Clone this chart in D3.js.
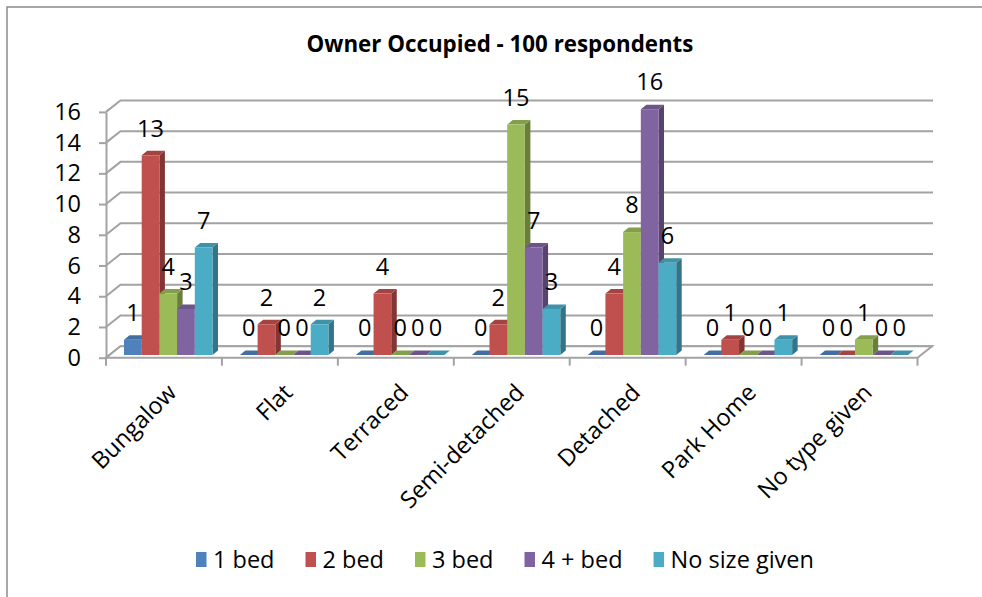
<!DOCTYPE html>
<html>
<head>
<meta charset="utf-8">
<script src="https://cdn.jsdelivr.net/npm/d3@7"></script>
<style>
  html, body { margin: 0; padding: 0; background: #fff; }
  svg { display: block; font-family: "Open Sans", "Liberation Sans", sans-serif; }
</style>
</head>
<body>
<svg id="chart" width="982" height="597"></svg>
<script>
// ---- data ----
const title = "Owner Occupied - 100 respondents";
const categories = ["Bungalow", "Flat", "Terraced", "Semi-detached", "Detached", "Park Home", "No type given"];
const seriesNames = ["1 bed", "2 bed", "3 bed", "4 + bed", "No size given"];
const bed1 = [1, 0, 0, 0, 0, 0, 0];
const bed2 = [13, 2, 4, 2, 4, 1, 0];
const bed3 = [4, 0, 0, 15, 8, 0, 1];
const bed4 = [3, 0, 0, 7, 16, 0, 0];
const noSize = [7, 2, 0, 3, 6, 1, 0];
const yTicks = [0, 2, 4, 6, 8, 10, 12, 14, 16];
const colors = ["#4F81BD", "#C0504D", "#9BBB59", "#8064A2", "#4BACC6"];

const seriesValues = [bed1, bed2, bed3, bed4, noSize];

// ---- layout ----
const svg = d3.select("#chart");
const FONT = 23.5;
const plotLeft = 106, plotRight = 917.5;
const yFront0 = 357.7;
const depthDX = 14.5, depthDY = -11.5;
const barBase = 355;
const barDX = 5.5, barDY = -4.5;
const gridColor = "#a3a3a3";

const yScale = d3.scaleLinear().domain([0, 16]).range([0, 245.8]);
const xBand = d3.scaleBand().domain(categories).range([plotLeft, plotRight]).padding(0);
const sBand = d3.scaleBand().domain(seriesNames).range([18, 18 + 88.5]).padding(0);

// outer border (right and bottom edges fall outside the view)
svg.append("rect").attr("x", 7).attr("y", 7).attr("width", 1000).attr("height", 620)
  .attr("fill", "#fff").attr("stroke", "#8c8c8c").attr("stroke-width", 1.5);

// title
const tt = svg.append("text").attr("x", 500).attr("y", 52).attr("text-anchor", "middle")
  .attr("font-weight", "bold").attr("font-size", 20).attr("fill", "#000").text(title);
{
  const w = tt.node().getComputedTextLength();
  tt.attr("font-size", 20 * 387 / w);
}

// back wall gridlines + left wall diagonals
const grid = svg.append("g");
yTicks.forEach(t => {
  const yf = yFront0 - yScale(t);
  const yb = yf + depthDY;
  grid.append("path")
    .attr("d", `M${plotLeft},${yf}L${plotLeft + depthDX},${yb}L${plotRight + depthDX + 1},${yb}`)
    .attr("fill", "none").attr("stroke", gridColor).attr("stroke-width", 2);
});

// floor
svg.append("path")
  .attr("d", `M${plotLeft},${yFront0}L${plotRight},${yFront0}L${plotRight + depthDX},${yFront0 + depthDY}L${plotLeft + depthDX},${yFront0 + depthDY}Z`)
  .attr("fill", "#fff").attr("stroke", gridColor).attr("stroke-width", 2);

// y axis (front)
const yAxisScale = d3.scaleLinear().domain([0, 16]).range([yFront0, yFront0 - yScale(16)]);
const yAxis = svg.append("g").attr("transform", `translate(${plotLeft},0)`)
  .call(d3.axisLeft(yAxisScale).tickValues(yTicks).tickSize(7).tickPadding(18).tickSizeOuter(0));
yAxis.select(".domain").attr("stroke", gridColor).attr("stroke-width", 2);
yAxis.selectAll(".tick line").attr("stroke", gridColor).attr("stroke-width", 2);
yAxis.selectAll(".tick text").attr("font-size", FONT).attr("fill", "#000")
  .attr("font-family", "'Open Sans', sans-serif");

// category ticks
const bounds = categories.map(c => xBand(c)).concat([plotRight]);
svg.append("g").selectAll("line").data(bounds).join("line")
  .attr("x1", d => d).attr("x2", d => d)
  .attr("y1", yFront0).attr("y2", yFront0 + 8)
  .attr("stroke", gridColor).attr("stroke-width", 2);

// bars
const bars = [];
categories.forEach((c, ci) => {
  seriesNames.forEach((s, si) => {
    bars.push({ c, s, si, v: seriesValues[si][ci] });
  });
});
const barG = svg.append("g");
bars.forEach(b => {
  const x0 = xBand(b.c) + sBand(b.s);
  const w = sBand.bandwidth();
  const h = yScale(b.v);
  const yt = barBase - h;
  const base = d3.color(colors[b.si]);
  const g = barG.append("g");
  g.append("path")
    .attr("d", `M${x0 + w},${barBase}L${x0 + w + barDX},${barBase + barDY}L${x0 + w + barDX},${yt + barDY}L${x0 + w},${yt}Z`)
    .attr("fill", base.darker(1.1).formatHex());
  g.append("path")
    .attr("d", `M${x0},${yt}L${x0 + barDX},${yt + barDY}L${x0 + w + barDX},${yt + barDY}L${x0 + w},${yt}Z`)
    .attr("fill", base.darker(0.45).formatHex());
  if (h > 0) {
    g.append("rect").attr("x", x0).attr("y", yt).attr("width", w).attr("height", h)
      .attr("fill", base.formatHex());
  }
});

// data labels
svg.append("g").selectAll("text").data(bars).join("text")
  .attr("x", d => xBand(d.c) + sBand(d.s) + sBand.bandwidth() / 2)
  .attr("y", d => barBase - yScale(d.v) - 27)
  .attr("dy", "0.35em")
  .attr("text-anchor", "middle").attr("font-size", FONT).attr("fill", "#000")
  .text(d => d.v);

// category labels
svg.append("g").selectAll("text").data(categories).join("text")
  .attr("transform", d => `translate(${xBand(d) + xBand.bandwidth() / 2 + 14},${394}) rotate(-45)`)
  .attr("text-anchor", "end").attr("font-size", FONT).attr("fill", "#000")
  .text(d => d);

// legend
const legend = svg.append("g");
let lx = 196;
seriesNames.forEach((s, i) => {
  legend.append("rect").attr("x", lx).attr("y", 552).attr("width", 10.5).attr("height", 15)
    .attr("fill", colors[i]);
  const t = legend.append("text").attr("x", lx + 17).attr("y", 560).attr("dy", "0.35em")
    .attr("font-size", FONT).attr("fill", "#000").text(s);
  lx = lx + 17 + t.node().getComputedTextLength() + 31;
});
</script>
</body>
</html>
